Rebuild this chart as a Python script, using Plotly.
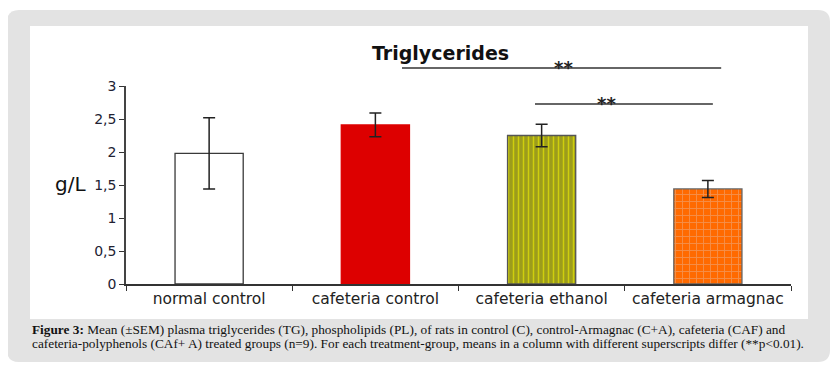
import plotly.graph_objects as go

# ---- data ----
categories = ["normal control", "cafeteria control", "cafeteria ethanol", "cafeteria armagnac"]
means = [1.98, 2.41, 2.25, 1.44]
sem = [0.54, 0.18, 0.17, 0.13]
y_ticks = [0, 0.5, 1, 1.5, 2, 2.5, 3]
sig_labels = ["**", "**"]

# page body has an 8px margin; everything below is in window pixels
O = 8
W, H = 838 - O, 378 - O
# plot area in window pixels: x 126..791, y 86..284
L, R, T, B = 126 - O, 838 - 791, 86 - O, 378 - 284
PW, PH = W - L - R, H - T - B

def px(x):
    return (x - O - L) / PW

def py(y):
    return (H - B - (y - O)) / PH

def rounded_rect(x0, y0, x1, y1, r):
    pts = [
        f"M {px(x0 + r)},{py(y0)}",
        f"L {px(x1 - r)},{py(y0)}",
        f"Q {px(x1)},{py(y0)} {px(x1)},{py(y0 + r)}",
        f"L {px(x1)},{py(y1 - r)}",
        f"Q {px(x1)},{py(y1)} {px(x1 - r)},{py(y1)}",
        f"L {px(x0 + r)},{py(y1)}",
        f"Q {px(x0)},{py(y1)} {px(x0)},{py(y1 - r)}",
        f"L {px(x0)},{py(y0 + r)}",
        f"Q {px(x0)},{py(y0)} {px(x0 + r)},{py(y0)}",
        "Z",
    ]
    return " ".join(pts)

bar_style = [
    dict(color="#ffffff", line="#3a3a3a", shape="", fg="#ffffff", size=6, sol=0.2),
    dict(color="#dd0000", line="#dd0000", shape="", fg="#dd0000", size=6, sol=0.2),
    dict(color="#9c9c1c", line="#555555", shape="|", fg="#ffff00", size=5, sol=0.3),
    dict(color="#ff6a00", line="#666666", shape="+", fg="#e9b597", size=7, sol=0.24),
]

fig = go.Figure()
for cat, m, e, st in zip(categories, means, sem, bar_style):
    marker = dict(color=st["color"], line=dict(color=st["line"], width=1.3))
    if st["shape"]:
        marker["pattern"] = dict(shape=st["shape"], fillmode="overlay", bgcolor=st["color"],
                                 fgcolor=st["fg"], size=st["size"], solidity=st["sol"])
    fig.add_trace(go.Bar(
        x=[cat], y=[m], width=0.41, marker=marker,
        error_y=dict(type="data", array=[e], visible=True, color="#222222", thickness=1.5, width=6),
        showlegend=False,
    ))

shapes = [
    dict(type="path", xref="paper", yref="paper", path=rounded_rect(7, 10, 830, 362, 12),
         fillcolor="#e3e3e3", line=dict(width=0), layer="below"),
    dict(type="rect", xref="paper", yref="paper", x0=px(30), x1=px(808), y0=py(319), y1=py(26),
         fillcolor="#ffffff", line=dict(width=0), layer="below"),
]

annotations = [
    dict(text="<b>Triglycerides</b>", xref="paper", yref="paper", x=px(440), y=py(40),
         showarrow=False, font=dict(family="DejaVu Sans", size=19, color="#111111")),
    dict(text="g/L", xref="paper", yref="paper", x=px(53), y=py(184),
         showarrow=False, font=dict(family="DejaVu Sans", size=20, color="#111111")),
    dict(text="<b>Figure 3:</b> Mean (±SEM) plasma triglycerides (TG), phospholipids (PL), of rats in control (C), control-Armagnac (C+A), cafeteria (CAF) and",
         xref="paper", yref="paper", x=px(30), y=py(339), xanchor="left", showarrow=False,
         font=dict(family="Liberation Serif", size=13.3, color="#111111")),
    dict(text="cafeteria-polyphenols (CAf+ A) treated groups (n=9). For each treatment-group, means in a column with different superscripts differ (**p<0.01).",
         xref="paper", yref="paper", x=px(30), y=py(353), xanchor="left", showarrow=False,
         font=dict(family="Liberation Serif", size=13.3, color="#111111")),
]

sig_y = [68, 104]
sig_x = [(1.16, 3.08), (1.96, 3.03)]
sig_star_x = [2.13, 2.39]
for lab, yy, (xa, xb), sx in zip(sig_labels, sig_y, sig_x, sig_star_x):
    shapes.append(dict(type="line", xref="x", yref="paper", x0=xa, x1=xb, y0=py(yy), y1=py(yy),
                       line=dict(color="#333333", width=1.5)))
    annotations.append(dict(text="<b>" + lab + "</b>", xref="x", yref="paper", x=sx,
                            y=py(yy + 12), yanchor="bottom", showarrow=False,
                            font=dict(family="DejaVu Sans", size=18, color="#222222")))

fig.update_layout(
    width=W, height=H,
    margin=dict(l=L, r=R, t=T, b=B),
    paper_bgcolor="#ffffff", plot_bgcolor="rgba(0,0,0,0)",
    separators=",.",
    barmode="overlay",
    shapes=shapes, annotations=annotations,
    xaxis=dict(type="category", categoryorder="array", categoryarray=categories,
               tickson="boundaries", ticks="outside", ticklen=5, tickcolor="#333333",
               showline=True, linecolor="#333333", linewidth=1.5, showgrid=False,
               tickfont=dict(family="DejaVu Sans", size=15.5, color="#222222"), range=[-0.5, 3.5]),
    yaxis=dict(range=[0, 3], tickvals=y_ticks, ticks="outside", ticklen=5, tickcolor="#333333",
               showline=True, linecolor="#444444", linewidth=1.5, showgrid=False, zeroline=False,
               tickfont=dict(family="DejaVu Sans", size=14, color="#222233")),
)

fig.write_html("out.html")
